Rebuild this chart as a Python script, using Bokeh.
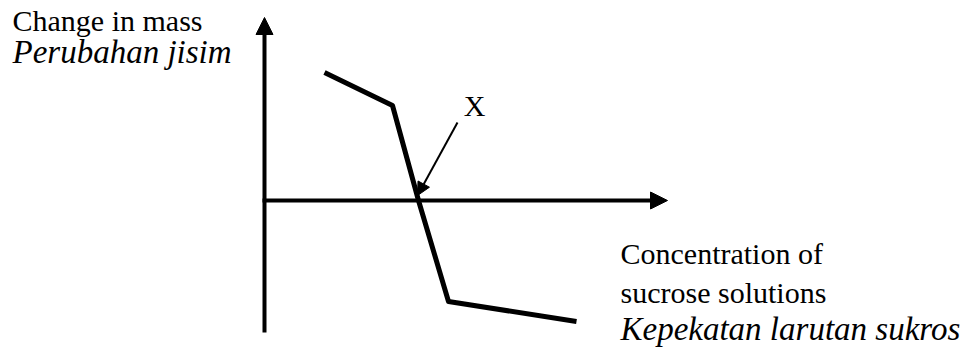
from bokeh.plotting import figure
from bokeh.models import Range1d, Label, Arrow, NormalHead, ColumnDataSource
from bokeh.embed import file_html
from bokeh.resources import INLINE

# Schematic data (arbitrary units): concentration of sucrose vs change in mass
concentration = [0.15, 0.32, 0.385, 0.46, 0.78]
mass_change = [1.28, 0.95, 0.0, -1.01, -1.21]

# Axis extents (arbitrary units)
x_axis_start, x_axis_end = -0.005, 1.0075
y_axis_start, y_axis_end = -1.32, 1.83

# X point (isotonic point) label/pointer
x_point_label = "X"
pointer_from = (0.4825, 0.78)
pointer_to = (0.3825, 0.05)

y_title = ["Change in mass", "Perubahan jisim"]
x_title = ["Concentration of", "sucrose solutions", "Kepekatan larutan sukros"]

FONT = "Liberation Serif"
DY = 0.10  # compensation for text baseline placement

p = figure(width=966, height=349, output_backend="svg", toolbar_location=None,
           x_range=Range1d(-0.66, 1.755), y_range=Range1d(-1.49, 2.00),
           min_border=0, min_border_left=0, min_border_right=0,
           min_border_top=0, min_border_bottom=0)
p.xaxis.visible = False
p.yaxis.visible = False
p.grid.visible = False
p.outline_line_color = None
p.background_fill_color = "white"
p.border_fill_color = "white"

# axes as arrows
p.add_layout(Arrow(x_start=x_axis_start, y_start=0, x_end=x_axis_end, y_end=0,
                   line_width=4, line_color="black",
                   end=NormalHead(size=17, fill_color="black", line_color="black", line_width=1)))
p.add_layout(Arrow(x_start=0, y_start=y_axis_start, x_end=0, y_end=y_axis_end,
                   line_width=4, line_color="black",
                   end=NormalHead(size=17, fill_color="black", line_color="black", line_width=1)))

# curve
src = ColumnDataSource(dict(x=concentration, y=mass_change))
p.line("x", "y", source=src, line_width=5, line_color="black", line_join="round")

# pointer to X
p.add_layout(Arrow(x_start=pointer_from[0], y_start=pointer_from[1],
                   x_end=pointer_to[0], y_end=pointer_to[1],
                   line_width=2, line_color="black",
                   end=NormalHead(size=13, fill_color="black", line_color="black", line_width=1)))
p.add_layout(Label(x=0.525, y=0.85 + DY, text=x_point_label, text_align="center",
                   text_baseline="alphabetic", text_font=FONT, text_font_size="30px",
                   text_color="black"))

# y title
p.add_layout(Label(x=-0.63, y=1.70 + DY, text=y_title[0], text_baseline="alphabetic",
                   text_font=FONT, text_font_size="30px", text_color="black"))
p.add_layout(Label(x=-0.63, y=1.39 + DY, text=y_title[1], text_baseline="alphabetic",
                   text_font=FONT, text_font_size="33px", text_font_style="italic",
                   text_color="black"))

# x title
p.add_layout(Label(x=0.89, y=-0.63 + DY, text=x_title[0], text_baseline="alphabetic",
                   text_font=FONT, text_font_size="30px", text_color="black"))
p.add_layout(Label(x=0.89, y=-1.02 + DY, text=x_title[1], text_baseline="alphabetic",
                   text_font=FONT, text_font_size="30px", text_color="black"))
p.add_layout(Label(x=0.89, y=-1.38 + DY, text=x_title[2], text_baseline="alphabetic",
                   text_font=FONT, text_font_size="33px", text_font_style="italic",
                   text_color="black"))

open("out.html", "w").write(file_html(p, INLINE))
